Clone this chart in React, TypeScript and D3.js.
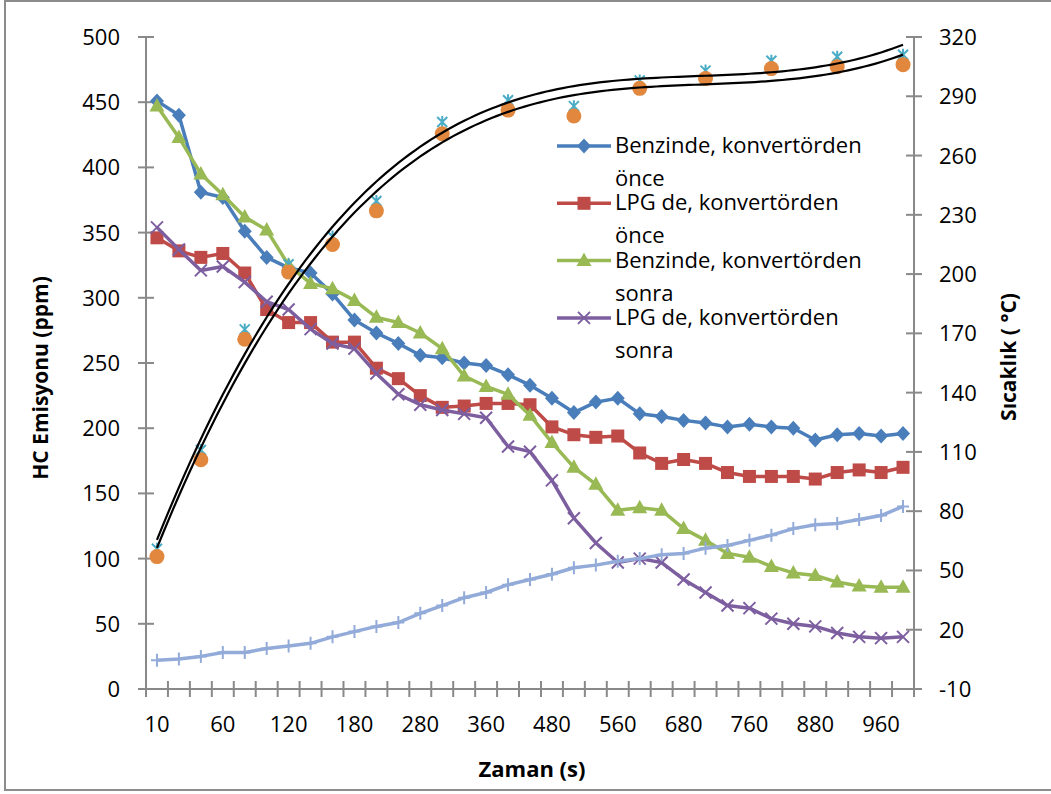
import React from "react";
import * as d3 from "d3";

// Time categories (s); every third one is labelled on the axis
const CATEGORIES = [
  10, 20, 40, 60, 80, 100, 120, 140, 160, 180, 220, 250, 280, 300, 330, 360, 400, 440,
  480, 500, 530, 560, 600, 640, 680, 700, 730, 760, 800, 840, 880, 900, 930, 960, 1000,
];

// HC emissions (ppm), left axis
const BENZIN_ONCE = [
  451, 440, 381, 377, 351, 331, 323, 319, 303, 283, 273, 265, 256, 254, 250, 248, 241, 233,
  223, 212, 220, 223, 211, 209, 206, 204, 201, 203, 201, 200, 191, 195, 196, 194, 196,
];
const LPG_ONCE = [
  346, 336, 331, 334, 319, 291, 281, 281, 266, 266, 246, 238, 225, 216, 217, 219, 219, 218,
  201, 195, 193, 194, 181, 173, 176, 173, 166, 163, 163, 163, 161, 166, 168, 166, 170,
];
const BENZIN_SONRA = [
  447, 423, 395, 379, 362, 352, 325, 311, 307, 298, 285, 281, 273, 261, 240, 232, 226, 210,
  189, 170, 157, 137, 139, 137, 123, 114, 104, 101, 94, 89, 87, 82, 79, 78, 78,
];
const LPG_SONRA = [
  354, 337, 321, 324, 312, 297, 291, 276, 265, 261, 242, 226, 218, 214, 211, 208, 186, 182,
  160, 131, 112, 97, 100, 97, 84, 74, 64, 62, 54, 50, 48, 43, 40, 39, 40,
];
const UNLABELLED_LINE = [
  22, 23, 25, 28, 28, 31, 33, 35, 40, 44, 48, 51, 58, 64, 70, 74, 80, 84,
  88, 93, 95, 98, 100, 103, 104, 108, 110, 114, 118, 123, 126, 127, 130, 133, 140,
];

// Temperature readings (°C), right axis, taken at these category positions
const TEMP_POSITIONS = [0, 2, 4, 6, 8, 10, 13, 16, 19, 22, 25, 28, 31, 34];
const TEMP_CIRCLES = [57, 106, 167, 201, 215, 232, 271, 283, 280, 294, 299, 304, 305, 306];
const TEMP_STARS = [61, 111, 172, 205, 219, 237, 277, 288, 285, 298, 303, 308, 310, 311];

const LEFT_TICKS = [0, 50, 100, 150, 200, 250, 300, 350, 400, 450, 500];
const RIGHT_TICKS = [-10, 20, 50, 80, 110, 140, 170, 200, 230, 260, 290, 320];

const LEGEND_NAMES = [
  "Benzinde, konvertörden önce",
  "LPG de, konvertörden önce",
  "Benzinde, konvertörden sonra",
  "LPG de, konvertörden sonra",
];

const FONT = "'Open Sans', 'Noto Sans', sans-serif";
const AXIS = "#898989";

const W = 1051;
const H = 794;
const PL = 146;
const PR = 914;
const PT = 37;
const PB = 689;

// Least-squares polynomial fit (normal equations, Gaussian elimination)
function polyFit(xs: number[], ys: number[], deg: number) {
  const n = deg + 1;
  const A = Array.from({ length: n }, () => new Array(n + 1).fill(0));
  xs.forEach((x, k) => {
    for (let i = 0; i < n; i++) {
      for (let j = 0; j < n; j++) A[i][j] += Math.pow(x, i + j);
      A[i][n] += ys[k] * Math.pow(x, i);
    }
  });
  for (let c = 0; c < n; c++) {
    let p = c;
    for (let r = c + 1; r < n; r++) if (Math.abs(A[r][c]) > Math.abs(A[p][c])) p = r;
    [A[c], A[p]] = [A[p], A[c]];
    for (let r = 0; r < n; r++) {
      if (r === c) continue;
      const f = A[r][c] / A[c][c];
      for (let k = c; k <= n; k++) A[r][k] -= f * A[c][k];
    }
  }
  const coef = A.map((row, i) => row[n] / row[i]);
  return (x: number) => coef.reduce((s, c, i) => s + c * Math.pow(x, i), 0);
}

type MarkerKind = "diamond" | "square" | "triangle" | "cross" | "plus";

function Marker({ kind, x, y, color }: { kind: MarkerKind; x: number; y: number; color: string }) {
  switch (kind) {
    case "diamond":
      return <path d={`M${x},${y - 7.5}L${x + 7},${y}L${x},${y + 7.5}L${x - 7},${y}Z`} fill={color} />;
    case "square":
      return <rect x={x - 6.5} y={y - 6.5} width={13} height={13} fill={color} />;
    case "triangle":
      return <path d={`M${x},${y - 8}L${x + 7.5},${y + 5.5}L${x - 7.5},${y + 5.5}Z`} fill={color} />;
    case "cross":
      return (
        <path
          d={`M${x - 6},${y - 6}L${x + 6},${y + 6}M${x - 6},${y + 6}L${x + 6},${y - 6}`}
          stroke={color}
          strokeWidth={2}
        />
      );
    case "plus":
      return (
        <path d={`M${x},${y - 6.5}L${x},${y + 6.5}M${x - 6},${y}L${x + 6},${y}`} stroke={color} strokeWidth={2} />
      );
  }
}

export default function App() {
  const idx = CATEGORIES.map((_, i) => i);
  const xBand = d3.scaleBand<number>().domain(idx).range([PL, PR]).paddingInner(0).paddingOuter(0);
  const x = (i: number) => (xBand(i) as number) + xBand.bandwidth() / 2;
  const xCont = d3.scaleLinear().domain([0, idx.length - 1]).range([x(0), x(idx.length - 1)]);
  const yL = d3.scaleLinear().domain([0, 500]).range([PB, PT]);
  const yR = d3.scaleLinear().domain([-10, 320]).range([PB, PT]);

  const series = [
    { name: LEGEND_NAMES[0], values: BENZIN_ONCE, color: "#4A7EBB", marker: "diamond" as MarkerKind },
    { name: LEGEND_NAMES[1], values: LPG_ONCE, color: "#BE4B48", marker: "square" as MarkerKind },
    { name: LEGEND_NAMES[2], values: BENZIN_SONRA, color: "#98B954", marker: "triangle" as MarkerKind },
    { name: LEGEND_NAMES[3], values: LPG_SONRA, color: "#7D5FA0", marker: "cross" as MarkerKind },
  ];

  const line = d3
    .line<number>()
    .x((_, i) => x(i))
    .y((v) => yL(v));

  // Third-order trendlines through each temperature series
  const fitA = polyFit(TEMP_POSITIONS.map((p) => p / 34), TEMP_CIRCLES, 3);
  const fitB = polyFit(TEMP_POSITIONS.map((p) => p / 34), TEMP_STARS, 3);
  const samples = d3.range(0, 34.001, 0.25);
  const trend = (f: (t: number) => number) =>
    d3
      .line<number>()
      .x((t) => xCont(t))
      .y((t) => yR(f(t / 34)))
      .curve(d3.curveLinear)(samples) as string;

  const edges = d3.range(0, idx.length + 1).map((k) => PL + k * xBand.bandwidth());

  return (
    <svg
      width={W}
      height={H}
      style={{ position: "absolute", left: 0, top: 0, background: "#fff" }}
      fontFamily={FONT}
    >
      <rect x={5} y={1} width={1100} height={789} fill="none" stroke="#8c8c8c" strokeWidth={2} />

      {/* axes */}
      <line x1={PL} x2={PL} y1={PT} y2={PB} stroke={AXIS} strokeWidth={2} />
      <line x1={PR} x2={PR} y1={PT} y2={PB} stroke={AXIS} strokeWidth={2} />
      <line x1={PL} x2={PR} y1={PB} y2={PB} stroke={AXIS} strokeWidth={2} />
      {LEFT_TICKS.map((t) => (
        <g key={`l${t}`}>
          <line x1={PL - 8} x2={PL + 8} y1={yL(t)} y2={yL(t)} stroke={AXIS} strokeWidth={2} />
          <text x={120} y={yL(t) + 8} fontSize={22} textAnchor="end" fill="#000">
            {t}
          </text>
        </g>
      ))}
      {RIGHT_TICKS.map((t) => (
        <g key={`r${t}`}>
          <line x1={PR - 8} x2={PR + 8} y1={yR(t)} y2={yR(t)} stroke={AXIS} strokeWidth={2} />
          <text x={939} y={yR(t) + 8} fontSize={22} fill="#000">
            {t}
          </text>
        </g>
      ))}
      {edges.map((ex, k) => (
        <line key={`e${k}`} x1={ex} x2={ex} y1={PB - 8} y2={PB + 8} stroke={AXIS} strokeWidth={2} />
      ))}
      {CATEGORIES.map((c, i) =>
        i % 3 === 0 ? (
          <text key={`c${i}`} x={x(i)} y={732} fontSize={22} textAnchor="middle" fill="#000">
            {c}
          </text>
        ) : null
      )}

      {/* axis titles */}
      <text x={532} y={777} fontSize={22} fontWeight="bold" textAnchor="middle">
        Zaman (s)
      </text>
      <text transform="translate(48,378) rotate(-90)" fontSize={21} fontWeight="bold" textAnchor="middle">
        HC Emisyonu (ppm)
      </text>
      <text transform="translate(1016,357) rotate(-90)" fontSize={21} fontWeight="bold" textAnchor="middle">
        Sıcaklık ( °C)
      </text>

      {/* HC series */}
      {series.map((s) => (
        <g key={s.name}>
          <path d={line(s.values) as string} fill="none" stroke={s.color} strokeWidth={3.5} strokeLinejoin="round" />
          {s.values.map((v, i) => (
            <Marker key={i} kind={s.marker} x={x(i)} y={yL(v)} color={s.color} />
          ))}
        </g>
      ))}
      <g>
        <path d={line(UNLABELLED_LINE) as string} fill="none" stroke="#93ABD9" strokeWidth={3.5} strokeLinejoin="round" />
        {UNLABELLED_LINE.map((v, i) => (
          <Marker key={i} kind="plus" x={x(i)} y={yL(v)} color="#93ABD9" />
        ))}
      </g>

      {/* temperature readings */}
      {TEMP_STARS.map((v, k) => {
        const cx = x(TEMP_POSITIONS[k]);
        const cy = yR(v);
        return (
          <path
            key={`s${k}`}
            d={`M${cx},${cy - 6}L${cx},${cy + 6}M${cx - 5},${cy - 5}L${cx + 5},${cy + 5}M${cx - 5},${cy + 5}L${cx + 5},${cy - 5}`}
            stroke="#4AACC5"
            strokeWidth={2}
          />
        );
      })}
      {TEMP_CIRCLES.map((v, k) => (
        <circle key={`o${k}`} cx={x(TEMP_POSITIONS[k])} cy={yR(v)} r={7.5} fill="#E2883E" />
      ))}
      <path d={trend(fitA)} fill="none" stroke="#000" strokeWidth={2.2} />
      <path d={trend(fitB)} fill="none" stroke="#000" strokeWidth={2.2} />

      {/* legend */}
      {series.map((s, k) => {
        const ly = 146 + k * 57.3;
        const cut = s.name.lastIndexOf(" ");
        return (
          <g key={`lg${k}`}>
            <line x1={557} x2={611} y1={ly} y2={ly} stroke={s.color} strokeWidth={3.5} />
            <Marker kind={s.marker} x={584} y={ly} color={s.color} />
            <text x={615} y={ly + 7} fontSize={22} fill="#000">
              {s.name.slice(0, cut)}
            </text>
            <text x={615} y={ly + 40} fontSize={22} fill="#000">
              {s.name.slice(cut + 1)}
            </text>
          </g>
        );
      })}
    </svg>
  );
}
